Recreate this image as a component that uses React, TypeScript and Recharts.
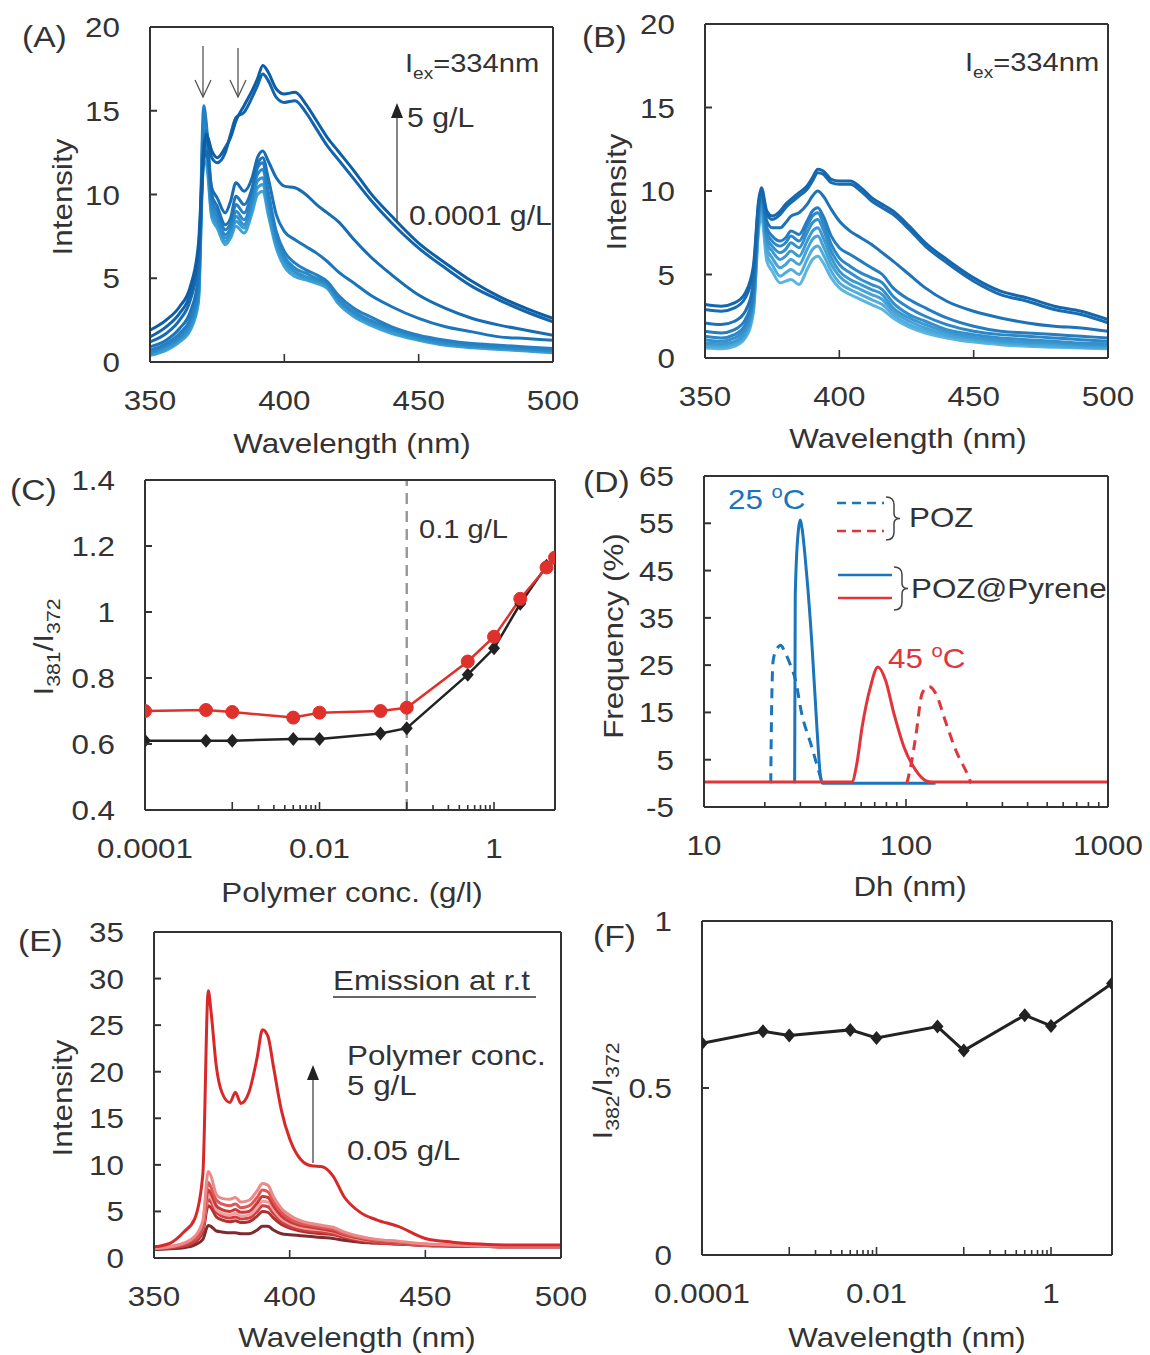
import React from 'react';
import { LineChart, Line, XAxis, YAxis, ReferenceLine } from 'recharts';

const FONT = '"Liberation Sans", Arial, Helvetica, sans-serif';
const INK = '#333333';
const SX = 1.12; // the source lettering is a bit wider than Arial

// ---- emission spectra (A, B, E) share one wavelength grid ----
const WL = [350, 356, 361, 365, 368, 370, 371, 373, 375, 378, 380, 382, 385, 388, 390, 392, 394, 397, 400, 404, 408, 412, 416, 420, 426, 432, 440, 450, 460, 470, 480, 490, 500];

// (A) 0.0001 -> 5 g/L
const A1 = [1.9, 2.5, 3.3, 4.5, 7.0, 12.8, 13.6, 12.6, 12.2, 12.8, 13.4, 14.4, 15.3, 16.2, 16.9, 17.7, 17.3, 16.3, 16.0, 16.1, 15.4, 14.4, 13.4, 12.6, 11.4, 10.1, 8.7, 7.1, 5.9, 4.8, 3.9, 3.2, 2.6];
const A2 = [1.5, 2.1, 2.9, 4.1, 6.5, 12.4, 13.3, 12.2, 11.9, 12.5, 13.6, 14.6, 14.9, 15.8, 16.5, 17.2, 16.8, 15.8, 15.5, 15.6, 14.9, 13.9, 12.9, 12.1, 10.9, 9.7, 8.3, 6.8, 5.6, 4.5, 3.7, 3.0, 2.4];
const A3 = [1.2, 1.7, 2.5, 3.7, 6.0, 12.0, 12.6, 10.4, 9.8, 8.9, 9.6, 10.7, 10.2, 11.0, 12.2, 12.6, 12.0, 11.0, 10.5, 10.4, 10.0, 9.4, 8.9, 8.4, 7.3, 6.3, 5.2, 4.0, 3.2, 2.6, 2.2, 1.9, 1.6];
const A4 = [0.9, 1.3, 2.0, 3.0, 5.0, 13.0, 13.8, 10.0, 9.3, 8.2, 8.6, 9.9, 9.4, 10.4, 11.8, 12.2, 11.0, 8.8, 7.8, 7.3, 6.9, 6.5, 6.0, 5.4, 4.7, 4.0, 3.3, 2.6, 2.1, 1.8, 1.5, 1.4, 1.3];
const A5 = [0.7, 1.1, 1.7, 2.6, 4.4, 15.3, 14.2, 9.6, 9.0, 7.9, 8.3, 9.4, 8.9, 10.2, 11.6, 11.9, 10.2, 7.8, 6.6, 5.9, 5.5, 5.2, 4.8, 4.0, 3.2, 2.7, 2.1, 1.6, 1.3, 1.1, 1.0, 0.9, 0.8];
const A6 = [0.6, 1.0, 1.5, 2.4, 4.1, 14.5, 13.6, 9.3, 8.7, 7.6, 8.0, 9.0, 8.5, 9.8, 11.2, 11.5, 9.8, 7.5, 6.3, 5.6, 5.3, 5.0, 4.7, 3.8, 3.0, 2.5, 2.0, 1.5, 1.2, 1.0, 0.9, 0.8, 0.7];
const A7 = [0.5, 0.9, 1.4, 2.2, 3.9, 13.8, 13.0, 9.0, 8.4, 7.4, 7.8, 8.7, 8.2, 9.5, 10.8, 11.0, 9.4, 7.2, 6.1, 5.4, 5.1, 4.9, 4.6, 3.7, 2.9, 2.4, 1.9, 1.4, 1.1, 0.95, 0.85, 0.75, 0.65];
const A8 = [0.45, 0.8, 1.3, 2.0, 3.7, 12.8, 12.4, 8.8, 8.2, 7.2, 7.6, 8.4, 8.0, 9.2, 10.4, 10.6, 9.1, 7.0, 5.9, 5.3, 5.0, 4.8, 4.5, 3.6, 2.8, 2.3, 1.8, 1.35, 1.05, 0.9, 0.8, 0.7, 0.6];
const A9 = [0.4, 0.7, 1.2, 1.9, 3.5, 12.0, 11.8, 8.6, 8.0, 7.0, 7.4, 8.1, 7.7, 8.9, 10.0, 10.2, 8.8, 6.8, 5.7, 5.1, 4.9, 4.7, 4.4, 3.5, 2.7, 2.2, 1.7, 1.3, 1.0, 0.85, 0.75, 0.65, 0.55];
const A_COLORS = ['#0e5ea6', '#1264ac', '#176cb2', '#1d75b9', '#2480c2', '#2a89c8', '#3192cd', '#389bd2', '#40a3d8'];

// (B)
const B1 = [3.2, 3.1, 3.3, 3.9, 5.5, 9.5, 10.2, 8.8, 8.5, 8.8, 9.2, 9.5, 9.9, 10.3, 10.8, 11.3, 11.2, 10.7, 10.6, 10.6, 10.2, 9.6, 9.2, 8.8, 7.9, 6.9, 5.9, 4.8, 4.0, 3.6, 3.1, 2.8, 2.3];
const B2 = [2.9, 2.8, 3.0, 3.6, 5.2, 9.3, 10.0, 8.6, 8.3, 8.6, 9.0, 9.3, 9.7, 10.1, 10.6, 11.1, 11.0, 10.5, 10.4, 10.4, 10.0, 9.4, 9.0, 8.6, 7.7, 6.7, 5.7, 4.6, 3.8, 3.4, 2.9, 2.6, 2.1];
const B3 = [2.1, 2.0, 2.2, 2.8, 4.5, 9.2, 10.0, 8.2, 7.8, 7.8, 8.1, 8.5, 8.7, 9.2, 9.7, 10.0, 9.7, 8.9, 8.2, 7.6, 7.2, 6.8, 6.3, 5.8, 5.0, 4.2, 3.4, 2.8, 2.4, 2.1, 1.9, 1.8, 1.6];
const B4 = [1.6, 1.5, 1.7, 2.3, 4.0, 9.0, 9.8, 7.8, 7.3, 7.0, 7.2, 7.6, 7.4, 8.2, 8.8, 9.0, 8.5, 7.3, 6.6, 6.2, 5.8, 5.4, 5.0, 4.2, 3.5, 3.0, 2.4, 1.9, 1.6, 1.5, 1.4, 1.3, 1.2];
const B5 = [1.3, 1.2, 1.4, 2.0, 3.7, 8.8, 9.6, 7.5, 7.0, 6.7, 6.9, 7.3, 7.0, 7.9, 8.5, 8.7, 8.1, 6.8, 6.0, 5.5, 5.1, 4.8, 4.5, 3.7, 3.0, 2.5, 2.0, 1.6, 1.4, 1.3, 1.2, 1.1, 1.0];
const B6 = [1.1, 1.0, 1.2, 1.8, 3.5, 8.6, 9.4, 7.2, 6.7, 6.3, 6.5, 6.9, 6.6, 7.5, 8.1, 8.3, 7.7, 6.4, 5.6, 5.1, 4.7, 4.4, 4.1, 3.3, 2.6, 2.2, 1.7, 1.4, 1.2, 1.1, 1.0, 0.9, 0.85];
const B7 = [0.9, 0.85, 1.0, 1.6, 3.3, 8.4, 9.2, 6.9, 6.4, 5.9, 6.1, 6.4, 6.1, 7.0, 7.6, 7.8, 7.2, 6.0, 5.2, 4.7, 4.4, 4.1, 3.8, 3.0, 2.4, 2.0, 1.55, 1.25, 1.05, 0.95, 0.9, 0.8, 0.75];
const B8 = [0.8, 0.75, 0.9, 1.4, 3.1, 8.2, 9.0, 6.6, 6.0, 5.4, 5.6, 5.9, 5.6, 6.5, 7.1, 7.3, 6.7, 5.6, 4.9, 4.4, 4.1, 3.8, 3.5, 2.8, 2.2, 1.8, 1.4, 1.15, 0.95, 0.85, 0.8, 0.7, 0.65];
const B9 = [0.7, 0.65, 0.8, 1.3, 2.9, 8.0, 8.8, 6.2, 5.6, 4.9, 5.1, 5.3, 5.0, 5.9, 6.5, 6.7, 6.2, 5.2, 4.5, 4.1, 3.8, 3.5, 3.2, 2.6, 2.0, 1.65, 1.3, 1.05, 0.9, 0.8, 0.7, 0.65, 0.6];
const B10 = [0.6, 0.55, 0.7, 1.2, 2.7, 7.7, 8.5, 5.8, 5.2, 4.5, 4.6, 4.7, 4.4, 5.3, 5.9, 6.1, 5.7, 4.8, 4.2, 3.8, 3.5, 3.2, 2.9, 2.4, 1.85, 1.5, 1.2, 0.95, 0.8, 0.7, 0.65, 0.6, 0.55];
const B_COLORS = ['#1567ad', '#196cb1', '#1e73b7', '#257dbf', '#2c87c6', '#3390cc', '#3b99d1', '#45a3d7', '#50acdc', '#5cb5e1'];

// (E) 0.05 -> 5 g/L
const E1 = [1.2, 1.6, 2.8, 4.2, 9.0, 28.7, 26.5, 20.5, 17.8, 16.7, 17.8, 16.6, 17.8, 21.5, 24.5, 23.8, 20.6, 15.8, 12.8, 10.6, 9.9, 9.8, 8.8, 6.6, 4.9, 4.1, 3.4, 2.1, 1.7, 1.5, 1.4, 1.4, 1.4];
const E2 = [1.0, 1.2, 1.6, 2.3, 4.0, 9.3, 8.8, 6.8, 6.4, 6.3, 6.5, 6.0, 6.2, 7.2, 8.0, 7.8, 6.6, 5.3, 4.6, 4.0, 3.7, 3.5, 3.3, 2.8, 2.3, 2.0, 1.8, 1.5, 1.4, 1.3, 1.3, 1.3, 1.3];
const E3 = [1.1, 1.2, 1.5, 2.1, 3.6, 8.1, 7.6, 6.2, 5.8, 5.6, 5.8, 5.4, 5.6, 6.5, 7.3, 7.1, 6.1, 4.9, 4.2, 3.7, 3.5, 3.3, 3.1, 2.6, 2.2, 1.9, 1.7, 1.5, 1.4, 1.3, 1.3, 1.3, 1.3];
const E4 = [1.0, 1.1, 1.4, 2.0, 3.4, 7.3, 6.9, 5.6, 5.2, 5.0, 5.2, 4.9, 5.0, 5.9, 6.6, 6.5, 5.6, 4.5, 3.9, 3.5, 3.3, 3.1, 2.9, 2.5, 2.1, 1.8, 1.6, 1.4, 1.3, 1.25, 1.2, 1.2, 1.2];
const E5 = [1.2, 1.3, 1.5, 2.0, 3.3, 6.8, 6.5, 5.2, 4.8, 4.6, 4.8, 4.5, 4.6, 5.4, 6.1, 6.0, 5.2, 4.2, 3.7, 3.3, 3.1, 3.0, 2.8, 2.4, 2.0, 1.8, 1.6, 1.4, 1.35, 1.3, 1.3, 1.3, 1.3];
const E6 = [1.0, 1.1, 1.3, 1.8, 3.1, 6.3, 6.0, 4.9, 4.5, 4.3, 4.4, 4.2, 4.3, 5.0, 5.6, 5.5, 4.8, 3.9, 3.4, 3.1, 2.9, 2.8, 2.6, 2.3, 1.9, 1.7, 1.5, 1.35, 1.3, 1.25, 1.2, 1.2, 1.2];
const E7 = [1.1, 1.2, 1.3, 1.7, 2.8, 5.6, 5.4, 4.4, 4.1, 3.9, 4.0, 3.8, 3.9, 4.5, 5.0, 4.9, 4.3, 3.6, 3.2, 2.9, 2.7, 2.6, 2.5, 2.2, 1.8, 1.6, 1.5, 1.35, 1.3, 1.25, 1.2, 1.2, 1.2];
const E8 = [0.9, 1.0, 1.1, 1.4, 2.0, 3.5, 3.4, 2.9, 2.8, 2.7, 2.7, 2.6, 2.6, 3.0, 3.4, 3.4, 3.0, 2.6, 2.5, 2.4, 2.3, 2.2, 2.1, 1.9, 1.7, 1.6, 1.5, 1.35, 1.3, 1.25, 1.2, 1.2, 1.2];
const E_COLORS = ['#d8282a', '#ec8a8a', '#e05555', '#c93a3a', '#f0a0a0', '#d04040', '#b03030', '#7e2a30'];

// ---- (C) and (F): ratios vs polymer concentration ----
const C_CONC = [0.0001, 0.0005, 0.001, 0.005, 0.01, 0.05, 0.1, 0.5, 1, 2, 4, 5];
const C_RED = [0.7, 0.703, 0.697, 0.68, 0.695, 0.7, 0.71, 0.85, 0.925, 1.04, 1.135, 1.165];
const C_BLACK = [0.61, 0.61, 0.61, 0.615, 0.615, 0.632, 0.648, 0.81, 0.89, 1.025, 1.14, 1.16];

const F_CONC = [0.0001, 0.0005, 0.001, 0.005, 0.01, 0.05, 0.1, 0.5, 1, 5];
const F_RATIO = [0.634, 0.67, 0.657, 0.674, 0.65, 0.684, 0.612, 0.718, 0.686, 0.813];

const LOG_TICKS = [0.0001, 0.001, 0.002, 0.003, 0.004, 0.005, 0.006, 0.007, 0.008, 0.009, 0.01, 0.1, 0.2, 0.3, 0.4, 0.5, 0.6, 0.7, 0.8, 0.9, 1];
const LOG_LABELS = [0.0001, 0.01, 1];

// ---- (D): DLS size distributions ----
const POZ25_DH = [21.4, 21.6, 22, 23, 24, 25, 26.8, 28.4, 30.4, 33.7, 38.5];
const POZ25_F = [0, 15, 26, 28.5, 29.2, 28, 25, 21.8, 14.9, 8.5, 0];
const PYR25_DH = [28.1, 28.3, 29.4, 30, 30.5, 32.3, 34.2, 36.2, 37.6, 38.5, 140];
const PYR25_F = [0, 40, 54, 55.7, 54.2, 43.7, 29.6, 12, 2, 0, 0];
const POZ45_DH = [101, 106, 111.7, 120.4, 130, 140, 158, 176, 202, 210];
const POZ45_F = [0, 4, 9.9, 19.1, 20.5, 19.1, 12.7, 7.1, 1.8, 0];
const PYR45_DH = [10, 54, 57, 60.7, 66.7, 72.6, 79.2, 87.1, 97.7, 111.7, 125, 135, 1000];
const PYR45_F = [0.3, 0.3, 4, 12, 20.4, 24.6, 21.8, 14.8, 7.7, 2.8, 0.6, 0.3, 0.3];
const D_TICKS = [10, 20, 30, 40, 50, 60, 70, 80, 90, 100, 200, 300, 400, 500, 600, 700, 800, 900, 1000];
const D_LABELS = [10, 100, 1000];

const BLUE = '#1b75bb';
const RED = '#e0353a';

type Box = { x0: number; y0: number; x1: number; y1: number };
const BOX_A: Box = { x0: 150, y0: 27, x1: 553, y1: 362 };
const BOX_B: Box = { x0: 705, y0: 24, x1: 1108, y1: 358 };
const BOX_C: Box = { x0: 145, y0: 480, x1: 555, y1: 810 };
const BOX_D: Box = { x0: 704, y0: 476, x1: 1108, y1: 807 };
const BOX_E: Box = { x0: 154, y0: 932, x1: 561, y1: 1258 };
const BOX_F: Box = { x0: 702, y0: 921, x1: 1112, y1: 1255 };

const YW = 100;
const XH = 70;
const MT = 24;
const MR = 40;
const AXIS = { stroke: INK, strokeWidth: 2 };

function place(b: Box) {
  return {
    width: b.x1 - b.x0 + YW + MR + 1,
    height: b.y1 - b.y0 + MT + XH + 1,
    style: { position: 'absolute' as const, left: b.x0 - YW, top: b.y0 - MT - 1 },
  };
}

function YTick({ x = 0, y = 0, payload }: any) {
  return (
    <g>
      <line x1={x} x2={x + 7} y1={y} y2={y} stroke={INK} strokeWidth={2} />
      <text transform={`translate(${x - 30},${y + 10}) scale(${SX},1)`} textAnchor="end" fontSize={28} fill={INK} fontFamily={FONT}>
        {String(payload.value)}
      </text>
    </g>
  );
}

function XTick({ x = 0, y = 0, payload, labels }: any) {
  const v = payload.value;
  const show = labels ? labels.includes(v) : true;
  const len = show || [0.001, 0.1].includes(v) ? 8 : 5;
  return (
    <g>
      <line x1={x} x2={x} y1={y} y2={y - len} stroke={INK} strokeWidth={1.6} />
      {show && (
        <text transform={`translate(${x},${y + 48}) scale(${SX},1)`} textAnchor="middle" fontSize={28} fill={INK} fontFamily={FONT}>
          {String(v)}
        </text>
      )}
    </g>
  );
}

function frameAxes() {
  return [
    <XAxis key="ft" xAxisId="top" orientation="top" type="number" domain={[0, 1]} height={1} tick={false} tickLine={false} axisLine={AXIS} />,
    <YAxis key="fr" yAxisId="right" orientation="right" type="number" domain={[0, 1]} width={1} tick={false} tickLine={false} axisLine={AXIS} />,
  ];
}

function spectraRows(curves: number[][]) {
  return WL.map((wl, i) => {
    const row: Record<string, number> = { wl };
    curves.forEach((c, k) => {
      row[`c${k}`] = c[i];
    });
    return row;
  });
}

function Spectra({ box, curves, colors, yMax, yTicks }: { box: Box; curves: number[][]; colors: string[]; yMax: number; yTicks: number[] }) {
  const p = place(box);
  const rows = spectraRows(curves);
  const order = curves.map((_, k) => k).reverse();
  return (
    <div style={p.style}>
      <LineChart width={p.width} height={p.height} data={rows} margin={{ top: MT, right: MR, left: 0, bottom: 0 }}>
        <XAxis dataKey="wl" type="number" domain={[350, 500]} ticks={[350, 400, 450, 500]} interval={0} height={XH} tickSize={0} tickMargin={0} tickLine={false} axisLine={AXIS} tick={<XTick />} allowDataOverflow />
        <YAxis type="number" domain={[0, yMax]} ticks={yTicks} interval={0} width={YW} tickSize={0} tickMargin={0} tickLine={false} axisLine={AXIS} tick={<YTick />} allowDataOverflow />
        {frameAxes()}
        {order.map((k) => (
          <Line key={k} type="monotone" dataKey={`c${k}`} stroke={colors[k]} strokeWidth={3} dot={false} activeDot={false} isAnimationActive={false} />
        ))}
      </LineChart>
    </div>
  );
}

const diamond = (fill: string) => (props: any) => {
  const { cx, cy, index } = props;
  if (cx == null || cy == null) return <g key={`d${index}`} />;
  return <path key={`d${index}`} d={`M${cx},${cy - 7}L${cx + 6},${cy}L${cx},${cy + 7}L${cx - 6},${cy}Z`} fill={fill} />;
};

function RatioC() {
  const p = place(BOX_C);
  const rows = C_CONC.map((x, i) => ({ x, red: C_RED[i], black: C_BLACK[i] }));
  return (
    <div style={p.style}>
      <LineChart width={p.width} height={p.height} data={rows} margin={{ top: MT, right: MR, left: 0, bottom: 0 }}>
        <XAxis dataKey="x" type="number" scale="log" domain={[0.0001, 5]} ticks={LOG_TICKS} interval={0} height={XH} tickSize={0} tickMargin={0} tickLine={false} axisLine={AXIS} tick={<XTick labels={LOG_LABELS} />} allowDataOverflow />
        <YAxis type="number" domain={[0.4, 1.4]} ticks={[0.4, 0.6, 0.8, 1, 1.2, 1.4]} interval={0} width={YW} tickSize={0} tickMargin={0} tickLine={false} axisLine={AXIS} tick={<YTick />} allowDataOverflow />
        {frameAxes()}
        <ReferenceLine x={0.1} stroke="#9a9a9a" strokeWidth={2.5} strokeDasharray="11 7" />
        <Line type="linear" dataKey="black" stroke="#222" strokeWidth={2.5} dot={diamond('#222')} activeDot={false} isAnimationActive={false} />
        <Line type="linear" dataKey="red" stroke="#e0302c" strokeWidth={2.5} dot={{ r: 6.5, fill: '#e0302c', stroke: '#e0302c', strokeWidth: 1 }} activeDot={false} isAnimationActive={false} />
      </LineChart>
    </div>
  );
}

function RatioF() {
  const p = place(BOX_F);
  const rows = F_CONC.map((x, i) => ({ x, ratio: F_RATIO[i] }));
  return (
    <div style={p.style}>
      <LineChart width={p.width} height={p.height} data={rows} margin={{ top: MT, right: MR, left: 0, bottom: 0 }}>
        <XAxis dataKey="x" type="number" scale="log" domain={[0.0001, 5]} ticks={LOG_TICKS} interval={0} height={XH} tickSize={0} tickMargin={0} tickLine={false} axisLine={AXIS} tick={<XTick labels={LOG_LABELS} />} allowDataOverflow />
        <YAxis type="number" domain={[0, 1]} ticks={[0, 0.5, 1]} interval={0} width={YW} tickSize={0} tickMargin={0} tickLine={false} axisLine={AXIS} tick={<YTick />} allowDataOverflow />
        {frameAxes()}
        <Line type="linear" dataKey="ratio" stroke="#222" strokeWidth={3} dot={diamond('#222')} activeDot={false} isAnimationActive={false} />
      </LineChart>
    </div>
  );
}

function pairs(xs: number[], ys: number[]) {
  return xs.map((x, i) => ({ x, y: ys[i] }));
}

function SizeD() {
  const p = place(BOX_D);
  return (
    <div style={p.style}>
      <LineChart width={p.width} height={p.height} margin={{ top: MT, right: MR, left: 0, bottom: 0 }}>
        <XAxis dataKey="x" type="number" scale="log" domain={[10, 1000]} ticks={D_TICKS} interval={0} height={XH} tickSize={0} tickMargin={0} tickLine={false} axisLine={AXIS} tick={<XTick labels={D_LABELS} />} allowDataOverflow />
        <YAxis type="number" domain={[-5, 65]} ticks={[-5, 5, 15, 25, 35, 45, 55, 65]} interval={0} width={YW} tickSize={0} tickMargin={0} tickLine={false} axisLine={AXIS} tick={<YTick />} allowDataOverflow />
        {frameAxes()}
        <Line data={pairs(POZ25_DH, POZ25_F)} type="monotone" dataKey="y" stroke={BLUE} strokeWidth={3} strokeDasharray="10 7" dot={false} activeDot={false} isAnimationActive={false} />
        <Line data={pairs(PYR25_DH, PYR25_F)} type="monotone" dataKey="y" stroke={BLUE} strokeWidth={3} dot={false} activeDot={false} isAnimationActive={false} />
        <Line data={pairs(POZ45_DH, POZ45_F)} type="monotone" dataKey="y" stroke={RED} strokeWidth={3} strokeDasharray="10 7" dot={false} activeDot={false} isAnimationActive={false} />
        <Line data={pairs(PYR45_DH, PYR45_F)} type="monotone" dataKey="y" stroke={RED} strokeWidth={3} dot={false} activeDot={false} isAnimationActive={false} />
      </LineChart>
    </div>
  );
}

function T({ x, y, size = 28, anchor = 'start', color = INK, rot = 0, children }: any) {
  return (
    <text transform={`translate(${x},${y}) rotate(${rot}) scale(${SX},1)`} fontSize={size} textAnchor={anchor} fill={color} fontFamily={FONT}>
      {children}
    </text>
  );
}

function Ratio({ a, b }: { a: string; b: string }) {
  return (
    <>
      I<tspan fontSize={19} dy={7}>{a}</tspan>
      <tspan dy={-7}>/I</tspan>
      <tspan fontSize={19} dy={7}>{b}</tspan>
    </>
  );
}

function Iex() {
  return (
    <>
      I<tspan fontSize={17} dy={7}>ex</tspan>
      <tspan dy={-7}>=334nm</tspan>
    </>
  );
}

function Deg({ t }: { t: string }) {
  return (
    <>
      {t} <tspan fontSize={18} dy={-11}>o</tspan>
      <tspan dy={11}>C</tspan>
    </>
  );
}

function bracket(x: number, y0: number, y1: number) {
  const m = (y0 + y1) / 2;
  return `M${x} ${y0} Q${x + 8} ${y0} ${x + 8} ${y0 + 8} L${x + 8} ${m - 5} Q${x + 8} ${m} ${x + 14} ${m} Q${x + 8} ${m} ${x + 8} ${m + 5} L${x + 8} ${y1 - 8} Q${x + 8} ${y1} ${x} ${y1}`;
}

function Overlay() {
  return (
    <svg width={1150} height={1355} style={{ position: 'absolute', left: 0, top: 0, pointerEvents: 'none' }}>
      {/* panel letters */}
      <T x={22} y={47} size={30}>(A)</T>
      <T x={582} y={47} size={30}>(B)</T>
      <T x={10} y={500} size={30}>(C)</T>
      <T x={583} y={492} size={30}>(D)</T>
      <T x={18} y={951} size={30}>(E)</T>
      <T x={593} y={946} size={30}>(F)</T>

      {/* axis titles */}
      <T x={72} y={197} rot={-90} anchor="middle">Intensity</T>
      <T x={626} y={192} rot={-90} anchor="middle">Intensity</T>
      <T x={53} y={647} rot={-90} anchor="middle"><Ratio a="381" b="372" /></T>
      <T x={623} y={636} rot={-90} anchor="middle">Frequency (%)</T>
      <T x={72} y={1098} rot={-90} anchor="middle">Intensity</T>
      <T x={612} y={1091} rot={-90} anchor="middle"><Ratio a="382" b="372" /></T>
      <T x={352} y={453} anchor="middle">Wavelength (nm)</T>
      <T x={908} y={448} anchor="middle">Wavelength (nm)</T>
      <T x={352} y={902} anchor="middle">Polymer conc. (g/l)</T>
      <T x={910} y={896} anchor="middle">Dh (nm)</T>
      <T x={357} y={1347} anchor="middle">Wavelength (nm)</T>
      <T x={907} y={1347} anchor="middle">Wavelength (nm)</T>

      {/* (A) */}
      <T x={405} y={72} size={26}><Iex /></T>
      <line x1={203} x2={203} y1={46} y2={97} stroke="#555" strokeWidth={1.3} />
      <polyline points="195,80 203,97 211,80" fill="none" stroke="#555" strokeWidth={1.3} />
      <line x1={238} x2={238} y1={48} y2={97} stroke="#555" strokeWidth={1.3} />
      <polyline points="230,80 238,97 246,80" fill="none" stroke="#555" strokeWidth={1.3} />
      <line x1={397} x2={397} y1={222} y2={112} stroke="#444" strokeWidth={1.3} />
      <polygon points="397,103 391,118 403,118" fill="#222" />
      <T x={407} y={127} size={27}>5 g/L</T>
      <T x={409} y={225} size={27}>0.0001 g/L</T>

      {/* (B) */}
      <T x={965} y={71} size={26}><Iex /></T>

      {/* (C) */}
      <T x={419} y={538} size={26}>0.1 g/L</T>

      {/* (D) */}
      <T x={728} y={509} color={BLUE}><Deg t="25" /></T>
      <T x={888} y={668} color={RED}><Deg t="45" /></T>
      <line x1={837} x2={884} y1={503} y2={503} stroke={BLUE} strokeWidth={2.5} strokeDasharray="9 6" />
      <line x1={837} x2={884} y1={531} y2={531} stroke={RED} strokeWidth={2.5} strokeDasharray="9 6" />
      <path d={bracket(886, 497, 540)} fill="none" stroke="#444" strokeWidth={1.5} />
      <T x={909} y={527}>POZ</T>
      <line x1={838} x2={892} y1={575} y2={575} stroke={BLUE} strokeWidth={2.5} />
      <line x1={838} x2={892} y1={598} y2={598} stroke={RED} strokeWidth={2.5} />
      <path d={bracket(894, 567, 610)} fill="none" stroke="#444" strokeWidth={1.5} />
      <T x={911} y={598}>POZ@Pyrene</T>

      {/* (E) */}
      <T x={333} y={990}>Emission at r.t</T>
      <line x1={333} x2={536} y1={997} y2={997} stroke={INK} strokeWidth={1.5} />
      <line x1={313} x2={313} y1={1163} y2={1076} stroke="#444" strokeWidth={1.3} />
      <polygon points="313,1065 307,1080 319,1080" fill="#222" />
      <T x={347} y={1065}>Polymer conc.</T>
      <T x={347} y={1095}>5 g/L</T>
      <T x={347} y={1160}>0.05 g/L</T>
    </svg>
  );
}

export default function App() {
  return (
    <div style={{ position: 'absolute', left: 0, top: 0, width: 1150, height: 1355, background: '#fff', overflow: 'hidden' }}>
      <Spectra box={BOX_A} curves={[A1, A2, A3, A4, A5, A6, A7, A8, A9]} colors={A_COLORS} yMax={20} yTicks={[0, 5, 10, 15, 20]} />
      <Spectra box={BOX_B} curves={[B1, B2, B3, B4, B5, B6, B7, B8, B9, B10]} colors={B_COLORS} yMax={20} yTicks={[0, 5, 10, 15, 20]} />
      <RatioC />
      <SizeD />
      <Spectra box={BOX_E} curves={[E1, E2, E3, E4, E5, E6, E7, E8]} colors={E_COLORS} yMax={35} yTicks={[0, 5, 10, 15, 20, 25, 30, 35]} />
      <RatioF />
      <Overlay />
    </div>
  );
}
